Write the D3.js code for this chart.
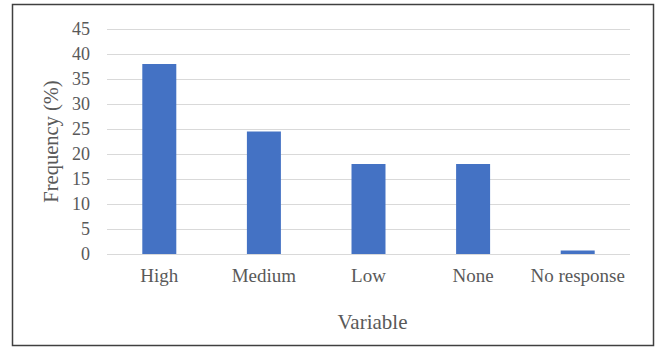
<!DOCTYPE html>
<html><head><meta charset="utf-8">
<script src="https://cdn.jsdelivr.net/npm/d3@7"></script>
<style>body{margin:0;background:#fff}svg{display:block}</style>
</head><body>
<script>
const categories = ["High","Medium","Low","None","No response"];
const values = [38, 24.5, 18, 18, 0.7];
const yTicks = [0,5,10,15,20,25,30,35,40,45];
const xTitle = "Variable";
const yTitle = "Frequency (%)";

const W = 660, H = 349;
const svg = d3.select("body").append("svg").attr("width", W).attr("height", H);
svg.append("rect").attr("x", 12.5).attr("y", 4.5).attr("width", 641).attr("height", 341)
  .attr("fill", "#fff").attr("stroke", "#404040").attr("stroke-width", 1.5);

const m = {l:107, r:630, t:29, b:254};
const x = d3.scaleBand().domain(categories).range([m.l, m.r]).paddingInner(0.675).paddingOuter(0.3375);
const y = d3.scaleLinear().domain([0,45]).range([m.b, m.t]);
const font = "'Liberation Serif','Times New Roman',serif";

const ya = svg.append("g").attr("transform", `translate(${m.l},0)`)
  .call(d3.axisLeft(y).tickValues(yTicks).tickSize(-(m.r-m.l)).tickPadding(17));
ya.select(".domain").remove();
ya.selectAll(".tick line").attr("stroke", "#d9d9d9").attr("stroke-width", 1);
ya.selectAll(".tick text").attr("font-family", font).attr("font-size", 18).attr("fill", "#595959");

svg.selectAll("rect.bar").data(values).enter().append("rect").attr("class","bar")
  .attr("x", (d,i)=>x(categories[i])).attr("width", x.bandwidth())
  .attr("y", d=>y(d)).attr("height", d=>y(0)-y(d)).attr("fill", "#4472c4");

const xa = svg.append("g").attr("transform", `translate(0,${m.b})`)
  .call(d3.axisBottom(x).tickSize(0).tickPadding(15));
xa.select(".domain").remove();
xa.selectAll(".tick text").attr("font-family", font).attr("font-size", 19).attr("fill", "#595959");

svg.append("text").attr("x", (m.l+m.r)/2+4).attr("y", 329).attr("text-anchor","middle")
  .attr("font-family", font).attr("font-size", 21).attr("fill", "#595959").text(xTitle);
svg.append("text").attr("transform", `translate(58,${(m.t+m.b)/2}) rotate(-90)`).attr("text-anchor","middle")
  .attr("font-family", font).attr("font-size", 20.5).attr("fill", "#595959").text(yTitle);
</script>
</body></html>
